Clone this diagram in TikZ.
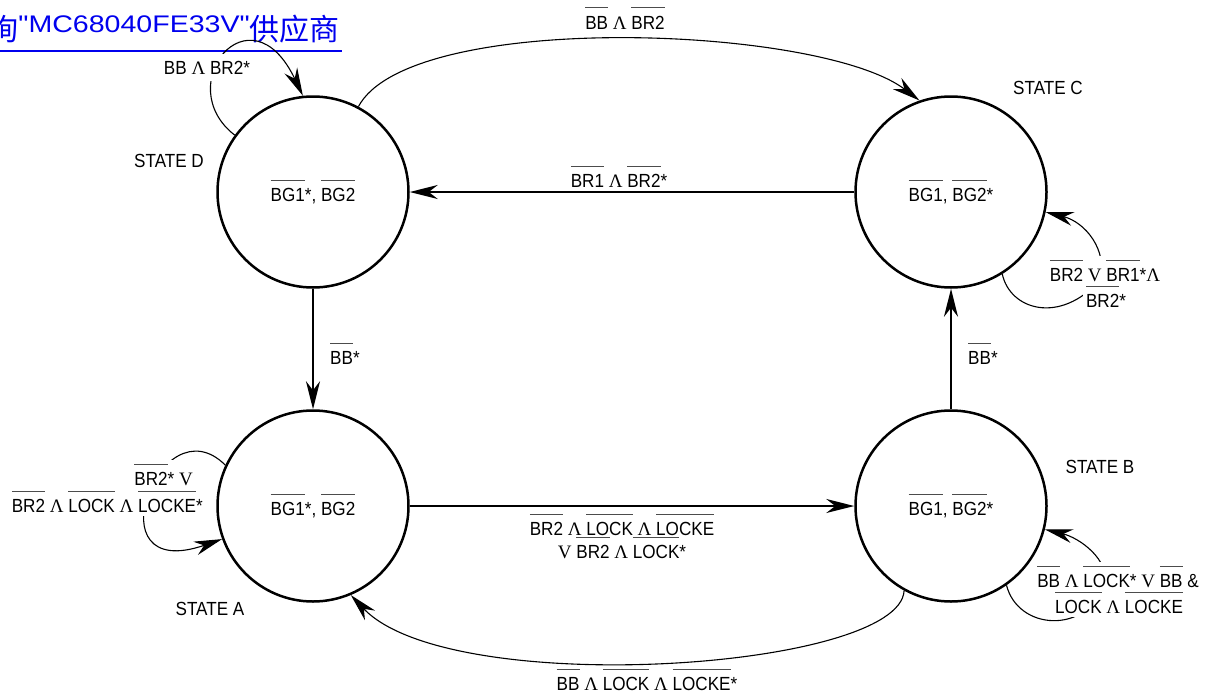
\documentclass[tikz,border=0pt]{standalone}
\usepackage{fontspec}
\setmainfont{Liberation Sans}[FakeStretch=0.9]
\newfontfamily\symf{Liberation Serif}
\newfontfamily\titlelat{Liberation Sans}[FakeStretch=1.19]
\newfontfamily\cjkf{Noto Sans CJK SC}
\usetikzlibrary{arrows.meta}
\definecolor{titleblue}{RGB}{0,0,238}
\definecolor{ovl}{gray}{0.3}
\newcommand\lab{\fontsize{19}{23}\selectfont}
\newcommand\cjkbig{\cjkf\fontsize{30}{32}\selectfont}
\newcommand\ol[1]{{\setbox0\hbox{#1}\rlap{\raisebox{20.5pt}{\color{ovl}\rule{\wd0}{1pt}}}\box0}}
\newcommand\AND{{\symf Λ}}
\newcommand\OR{{\symf V}}
\begin{document}
\begin{tikzpicture}[x=1pt,y=-1pt,
  state/.style={circle, draw, line width=2.5pt, minimum size=191pt, inner sep=0pt, font=\lab},
  lab/.style={font=\lab, inner sep=1pt},
  cover/.style={font=\lab, fill=white, inner xsep=3pt, inner ysep=4pt},
  tip/.style={-{Stealth[length=28pt,width=14pt,inset=9pt]}},
  curve/.style={line width=1.1pt, tip},
  hline/.style={line width=1.5pt, tip},
  vline/.style={line width=2.5pt, tip},
  ttl/.style={anchor=base east, inner sep=0pt, text=titleblue, font=\titlelat\fontsize{24}{28}\selectfont}]
\useasboundingbox (0,0) rectangle (1207,696);

% title
\node[ttl] (title) at (340,32) {\raisebox{-8pt}{\cjkbig 询}"MC68040FE33V"\raisebox{-8pt}{\cjkbig 供应商}};
\draw[titleblue, line width=2pt] ([yshift=-19pt]title.base west) -- ([yshift=-19pt,xshift=2pt]title.base east);

% states
\node[state] (D) at (313,192) {\ol{BG1}*, \ol{BG2}};
\node[state] (C) at (951,192) {\ol{BG1}, \ol{BG2}*};
\node[state] (A) at (313,506) {\ol{BG1}*, \ol{BG2}};
\node[state] (B) at (951,506) {\ol{BG1}, \ol{BG2}*};

\node[lab] (sD) at (169,161) {STATE D};
\node[lab] (sC) at (1048,88) {STATE C};
\node[lab] (sB) at (1100,467) {STATE B};
\node[lab] (sA) at (210,609) {STATE A};

% connectors
\draw[curve] (D.144) .. controls (170,85) and (250,-15) .. (D.96);
\draw[curve] (D.62) .. controls (410,10) and (820,25) .. (C.109);
\draw[hline] (C.west) -- (D.east);
\draw[vline] (D.south) -- (A.north);
\draw[vline] (B.north) -- (C.south);
\draw[hline] (A.east) -- (B.west);
\draw[curve] (B.241) .. controls (900,670) and (450,700) .. (A.-67);
\draw[curve] (A.155) .. controls (160,400) and (90,585) .. (A.200);
\draw[curve] (C.-58) .. controls (1010,310) and (1060,325) .. (1100,280) .. controls (1108,250) and (1085,222) .. (C.-12);
\draw[curve] (B.-55) .. controls (1018,630) and (1085,635) .. (1105,585) .. controls (1110,560) and (1080,538) .. (B.-14);

% labels
\node[lab, anchor=base] (lDC) at (625,29) {\ol{BB} \AND{} \ol{BR2}};
\node[lab, anchor=base] (lCD) at (619,187) {\ol{BR1} \AND{} \ol{BR2}*};
\node[lab, anchor=base west] (lDA) at (329,364) {\ol{BB}*};
\node[lab, anchor=base west] (lBC) at (967,364) {\ol{BB}*};
\node[lab, anchor=base] (lAB1) at (622,535) {\ol{BR2} \AND{} \ol{LOCK} \AND{} \ol{LOCKE}};
\node[lab, anchor=base] (lAB2) at (622,558) {\OR{} \ol{BR2} \AND{} \ol{LOCK}*};
\node[lab, anchor=base] (lBA) at (647,690) {\ol{BB} \AND{} \ol{LOCK} \AND{} \ol{LOCKE}*};

\node[cover, anchor=base, inner ysep=7pt] (lD) at (207,74) {BB \AND{} BR2*};
\node[cover, anchor=base east] (lA1) at (196,485) {\ol{BR2}* \OR};
\node[cover, anchor=base east] (lA2) at (206,512) {\ol{BR2} \AND{} \ol{LOCK} \AND{} \ol{LOCKE}*};
\node[cover, anchor=base] (lC1) at (1105,281) {\ol{BR2} \OR{} \ol{BR1}*\AND};
\node[cover, anchor=base] (lC2) at (1106,307) {\ol{BR2}*};
\node[cover, anchor=base] (lB1) at (1118,587) {\ol{BB} \AND{} \ol{LOCK}* \OR{} \ol{BB} \&};
\node[cover, anchor=base] (lB2) at (1119,613) {\ol{LOCK} \AND{} \ol{LOCKE}};
\end{tikzpicture}
\end{document}
